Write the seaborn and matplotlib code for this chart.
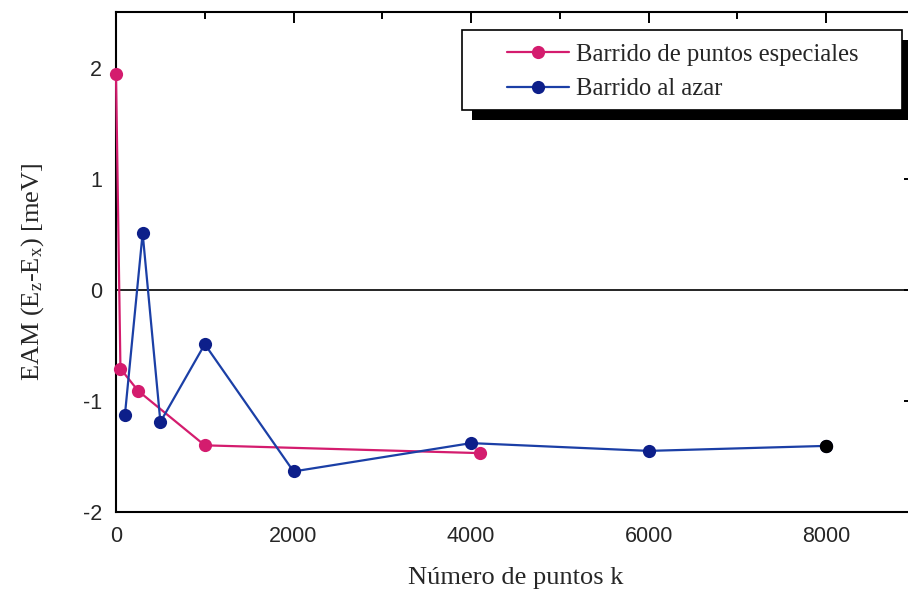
import matplotlib
matplotlib.use("Agg")
import matplotlib.pyplot as plt
from matplotlib.patches import Rectangle
from matplotlib.ticker import MultipleLocator
import seaborn as sns
import pandas as pd

# Energy difference vs. number of k-points for two sampling schemes
special_k = [0, 50, 250, 1000, 4096]
special_eam = [1.94, -0.71, -0.91, -1.40, -1.47]

random_k = [100, 300, 500, 1000, 2000, 4000, 6000, 8000]
random_eam = [-1.13, 0.51, -1.19, -0.49, -1.635, -1.38, -1.45, -1.405]

series_labels = ["Barrido de puntos especiales", "Barrido al azar"]
x_label = "Número de puntos k"
y_label = r"EAM (E$_\mathregular{z}$-E$_\mathregular{x}$) [meV]"

PINK = "#d41c6e"
BLUE = "#1b3fa6"
NAVY = "#0d1f8a"

sns.set_theme(style="white")
plt.rcParams["font.family"] = ["Liberation Serif", "DejaVu Serif"]
plt.rcParams["mathtext.fontset"] = "custom"
plt.rcParams["mathtext.rm"] = "Liberation Serif"
plt.rcParams["mathtext.it"] = "Liberation Serif:italic"
plt.rcParams["axes.unicode_minus"] = False

special_df = pd.DataFrame({"k": special_k, "eam": special_eam})
random_df = pd.DataFrame({"k": random_k, "eam": random_eam})

fig = plt.figure(figsize=(9.08, 5.90), dpi=100)
W, H = 908, 590
ax = fig.add_axes([116 / W, 1 - 512 / H, (915 - 116) / W, (512 - 12) / H])

ax.axhline(0, color="black", lw=1.2, zorder=1)

sns.lineplot(data=special_df, x="k", y="eam", ax=ax, color=PINK, lw=1.6,
             marker="o", markersize=9.5, markeredgewidth=0, markerfacecolor=PINK,
             label=series_labels[0], sort=False, zorder=3)
sns.lineplot(data=random_df, x="k", y="eam", ax=ax, color=BLUE, lw=1.6,
             marker="o", markersize=9.5, markeredgewidth=0, markerfacecolor=NAVY,
             label=series_labels[1], sort=False, zorder=3)
# final random-sampling point is highlighted in black
sns.scatterplot(x=random_k[-1:], y=random_eam[-1:], ax=ax, color="black",
                s=92, linewidth=0, zorder=4, legend=False)

# let markers sitting on the spine show in full
for ln in ax.lines:
    ln.set_clip_on(False)
for coll in ax.collections:
    coll.set_clip_on(False)

ax.set_xlim(0, 9000)
ax.set_ylim(-2, 2.5)
ax.xaxis.set_major_locator(MultipleLocator(2000))
ax.xaxis.set_minor_locator(MultipleLocator(1000))
ax.yaxis.set_major_locator(MultipleLocator(1))
ax.yaxis.set_minor_locator(MultipleLocator(0.5))

ax.tick_params(which="both", direction="in", top=True, right=True,
               color="black", width=1.4)
ax.tick_params(which="major", length=8, pad=10, labelsize=15.5)
ax.tick_params(which="minor", length=5)
for lab in ax.get_xticklabels() + ax.get_yticklabels():
    lab.set_family(["Liberation Sans", "DejaVu Sans"])

for s in ax.spines.values():
    s.set_color("black")
    s.set_linewidth(1.5)

ax.set_xlabel(x_label, fontsize=19, labelpad=14.5)
ax.set_ylabel(y_label, fontsize=19)
ax.yaxis.set_label_coords(-0.088, 0.48)

# legend with a solid offset drop shadow
leg = ax.legend(loc="center", bbox_to_anchor=(683 / W, 1 - 72 / H),
                bbox_transform=fig.transFigure, frameon=False, fontsize=17.7,
                handlelength=2.5, handletextpad=0.3, labelspacing=0.5)
box = Rectangle((462 / W, 1 - 110 / H), 440 / W, 80 / H, transform=fig.transFigure,
                facecolor="white", edgecolor="black", lw=1.2, zorder=4.5, clip_on=False)
shadow = Rectangle((472 / W, 1 - 120 / H), 440 / W, 80 / H, transform=fig.transFigure,
                   facecolor="black", edgecolor="black", lw=0, zorder=4.4, clip_on=False)
ax.add_patch(shadow)
ax.add_patch(box)
leg.set_zorder(5)

fig.savefig("out.png", dpi=100)
